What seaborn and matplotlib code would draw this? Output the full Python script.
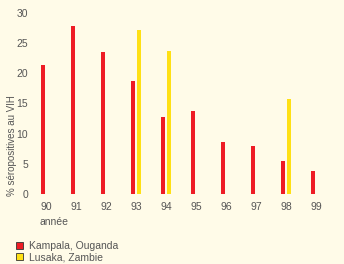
import matplotlib
matplotlib.use("Agg")
import matplotlib.pyplot as plt
import pandas as pd
import seaborn as sns
from matplotlib.patches import Patch

# Data
years = ["90", "91", "92", "93", "94", "95", "96", "97", "98", "99"]
kampala = [21.3, 27.8, 23.5, 18.7, 12.7, 13.7, 8.7, 8.0, 5.5, 3.8]
lusaka_years = ["93", "94", "98"]
lusaka = [27.2, 23.7, 15.7]
series = ["Kampala, Ouganda", "Lusaka, Zambie"]
colors = ["#EE1C25", "#FFE014"]

bg = "#FFFBE8"
txt = "#555555"

df = pd.concat([
    pd.DataFrame({"year": years, "value": kampala, "city": series[0]}),
    pd.DataFrame({"year": lusaka_years, "value": lusaka, "city": series[1]}),
])

sns.set_theme(style="white")
plt.rcParams["font.family"] = ["Liberation Sans", "DejaVu Sans"]

fig = plt.figure(figsize=(3.44, 2.64), dpi=100, facecolor=bg)
ax = fig.add_axes([0.090, 0.265, 0.872, 0.686], facecolor=bg)

sns.barplot(data=df, x="year", y="value", hue="city", order=years,
            hue_order=series, palette=colors, width=0.4, gap=0.22,
            dodge=True, saturation=1, ax=ax, legend=False, linewidth=0)

ax.set_xlim(-0.5, 9.5)
ax.set_ylim(0, 30)
ax.set_yticks(range(0, 31, 5))
for s in ax.spines.values():
    s.set_visible(False)
ax.tick_params(axis="both", length=0, labelsize=7.5, colors=txt)
ax.tick_params(axis="y", pad=2)
ax.tick_params(axis="x", pad=6)
ax.set_xlabel("")
ax.set_ylabel("% séropositives au VIH", fontsize=7, color=txt)
ax.yaxis.set_label_coords(-0.045, 0.27)

fig.text(39 / 344, 1 - 222 / 264, "année", fontsize=7.5, color=txt,
         ha="left", va="center")

handles = [Patch(facecolor=c, edgecolor="#333333", linewidth=0.6) for c in colors]
fig.legend(handles, series, loc="lower left", bbox_to_anchor=(0.025, -0.022),
           frameon=False, fontsize=7.5, labelcolor=txt, handlelength=0.65,
           handleheight=0.65, handletextpad=0.6, labelspacing=0.1,
           borderpad=0.2)

fig.savefig("out.png", dpi=100, facecolor=bg)
